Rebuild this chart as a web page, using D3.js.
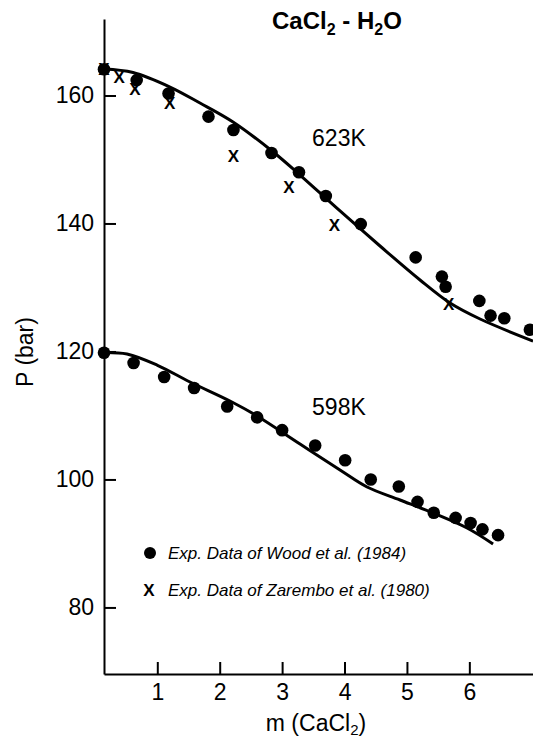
<!DOCTYPE html>
<html>
<head>
<meta charset="utf-8">
<script src="https://cdn.jsdelivr.net/npm/d3@7"></script>
<style>
  html, body { margin: 0; padding: 0; background: #fff; }
  svg { display: block; font-family: "Liberation Sans", Arial, Helvetica, sans-serif; }
</style>
</head>
<body>
<svg id="chart" width="533" height="740"></svg>
<script>
// CaCl2 - H2O vapour pressure vs. molality at two temperatures

// Wood et al. (1984), 623 K: [m, P]
const wood623 = [
  [0.146, 164.1], [0.67, 162.4], [1.18, 160.3], [1.82, 156.7], [2.22, 154.6],
  [2.83, 151.0], [3.27, 148.0], [3.70, 144.3], [4.26, 139.9], [5.14, 134.7],
  [5.56, 131.7], [5.62, 130.1], [6.16, 127.9], [6.34, 125.6], [6.56, 125.2],
  [6.97, 123.4]
];
// Zarembo et al. (1980), 623 K: [m, P]
const zarembo623 = [
  [0.146, 164.1], [0.39, 162.9], [0.64, 161.1], [1.20, 158.9], [2.22, 150.5],
  [3.11, 145.7], [3.84, 139.8], [5.67, 127.5]
];
// Wood et al. (1984), 598 K: [m, P]
const wood598 = [
  [0.146, 119.8], [0.62, 118.2], [1.11, 116.0], [1.59, 114.3], [2.12, 111.4],
  [2.60, 109.7], [3.00, 107.7], [3.53, 105.3], [4.01, 103.0], [4.42, 100.0],
  [4.87, 98.9], [5.17, 96.5], [5.43, 94.8], [5.78, 94.0], [6.02, 93.2],
  [6.21, 92.2], [6.46, 91.3]
];
// Model curves: [m, P]
const model623 = [
  [0.146, 164.14], [0.611, 163.59], [1.204, 161.32], [1.684, 158.82],
  [2.213, 155.86], [2.838, 151.32], [3.287, 147.57], [3.928, 141.95],
  [4.569, 136.48], [5.210, 131.17], [5.691, 127.57], [6.172, 125.07],
  [7.021, 121.63]
];
const model598 = [
  [0.146, 119.84], [0.515, 119.60], [0.995, 117.88], [1.524, 115.23],
  [2.165, 112.26], [2.598, 109.92], [3.287, 105.54], [3.928, 101.48],
  [4.361, 98.82], [4.890, 96.79], [5.418, 94.76], [5.963, 92.41],
  [6.380, 89.91]
];

const xTicks = [1, 2, 3, 4, 5, 6];
const yTicks = [80, 100, 120, 140, 160];
const curveLabels = [
  { text: "623K", m: 3.48, P: 152.15 },
  { text: "598K", m: 3.48, P: 110.07 }
];
const legendItems = [
  { kind: "circle", text: "Exp. Data of Wood et al. (1984)" },
  { kind: "cross", text: "Exp. Data of Zarembo et al. (1980)" }
];

const svg = d3.select("#chart");
const x = d3.scaleLinear().domain([0.146, 7.02]).range([104, 533]);
const y = d3.scaleLinear().domain([69.6, 171.95]).range([674, 19]);

const tickFont = 23;

// Axes with inward-pointing ticks
const xAxis = svg.append("g")
  .attr("transform", `translate(0,${y.range()[0]})`)
  .call(d3.axisBottom(x).tickValues(xTicks).tickFormat(d3.format("d"))
    .tickSizeInner(-12).tickSizeOuter(0).tickPadding(10));
const yAxis = svg.append("g")
  .attr("transform", `translate(${x.range()[0]},0)`)
  .call(d3.axisLeft(y).tickValues(yTicks).tickFormat(d3.format("d"))
    .tickSizeInner(-12).tickSizeOuter(0).tickPadding(10));

[xAxis, yAxis].forEach(g => {
  g.select(".domain").attr("stroke", "#000").attr("stroke-width", 2);
  g.selectAll(".tick line").attr("stroke", "#000").attr("stroke-width", 2);
  g.selectAll(".tick text").attr("fill", "#000")
    .style("font-size", tickFont + "px")
    .style("font-family", '"Liberation Sans", Arial, sans-serif');
});

// Model curves
const line = d3.line().x(d => x(d[0])).y(d => y(d[1]))
  .curve(d3.curveCatmullRom.alpha(0.5));
[model623, model598].forEach(data => {
  svg.append("path").datum(data)
    .attr("fill", "none").attr("stroke", "#000")
    .attr("stroke-width", 3).attr("stroke-linejoin", "round")
    .attr("d", line);
});

// Zarembo crosses (drawn beneath circles)
svg.append("g").selectAll("text").data(zarembo623).join("text")
  .attr("x", d => x(d[0])).attr("y", d => y(d[1]))
  .attr("dy", "0.36em")
  .attr("text-anchor", "middle")
  .style("font-size", "17px").style("font-weight", "bold")
  .text("X");

// Wood circles
svg.append("g").selectAll("circle").data(wood623.concat(wood598)).join("circle")
  .attr("cx", d => x(d[0])).attr("cy", d => y(d[1]))
  .attr("r", 6.3).attr("fill", "#000");

// Temperature labels
svg.append("g").selectAll("text").data(curveLabels).join("text")
  .attr("x", d => x(d.m)).attr("y", d => y(d.P))
  .style("font-size", "23px")
  .text(d => d.text);

// Title
const title = svg.append("text").attr("x", 272).attr("y", 29)
  .style("font-size", "24px").style("font-weight", "bold");
title.append("tspan").text("CaCl");
title.append("tspan").attr("dy", 6).style("font-size", "16px").text("2");
title.append("tspan").attr("dy", -6).text(" - H");
title.append("tspan").attr("dy", 6).style("font-size", "16px").text("2");
title.append("tspan").attr("dy", -6).text("O");

// Axis titles
const xt = svg.append("text").attr("x", 316).attr("y", 731)
  .attr("text-anchor", "middle").style("font-size", "23px");
xt.append("tspan").text("m (CaCl");
xt.append("tspan").attr("dy", 4).style("font-size", "15px").text("2");
xt.append("tspan").attr("dy", -4).text(")");

svg.append("text")
  .attr("transform", "translate(33,352) rotate(-90)")
  .attr("text-anchor", "middle").style("font-size", "23px")
  .text("P (bar)");

// Legend
const legend = svg.append("g");
const rowY = [553, 590];
legendItems.forEach((item, i) => {
  const row = legend.append("g").attr("transform", `translate(0,${rowY[i]})`);
  if (item.kind === "circle") {
    row.append("circle").attr("cx", 150).attr("cy", 0).attr("r", 6).attr("fill", "#000");
  } else {
    row.append("text").attr("x", 149).attr("y", 0).attr("dy", "0.36em")
      .attr("text-anchor", "middle")
      .style("font-size", "17px").style("font-weight", "bold").text("X");
  }
  row.append("text").attr("x", 168).attr("y", 0).attr("dy", "0.36em")
    .style("font-size", "17px").style("font-style", "italic")
    .text(item.text);
});
</script>
</body>
</html>
